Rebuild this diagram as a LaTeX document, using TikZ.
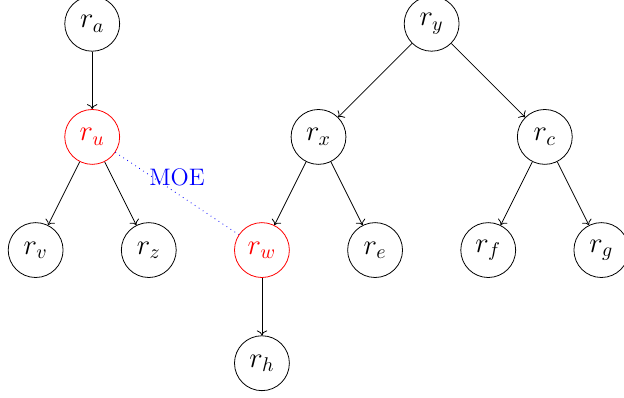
\documentclass[tikz,border=0pt]{standalone}
\usepackage{amsmath, amssymb}
\usepackage{tikz}
\usetikzlibrary{arrows.meta, positioning}

\begin{document}
\begin{tikzpicture}[
  vert/.style={draw, circle, minimum size=0.97cm, inner sep=0pt, font=\Large},
  moe/.style={draw=blue, dotted},
  arr/.style={->},
  on grid,
  node distance=2cm and 1cm
]
\useasboundingbox (-1.63,0.42) rectangle (9.4,-6.61);
\node[vert] (ra) {$r_a$};
\node[vert, red, below=of ra] (ru) {$r_u$};
\node[vert, below left=of ru] (rv) {$r_v$};
\node[vert, below right=of ru] (rz) {$r_z$};

\node[vert, right=6cm of ra] (ry) {$r_y$};
\node[vert, below left=2cm and 2cm of ry] (rx) {$r_x$};
\node[vert, below right=2cm and 2cm of ry] (rc) {$r_c$};
\node[vert, red, below left=of rx] (rw) {$r_w$};
\node[vert, below right=of rx] (re) {$r_e$};
\node[vert, below left=of rc] (rf) {$r_f$};
\node[vert, below right=of rc] (rg) {$r_g$};
\node[vert, below=of rw] (rh) {$r_h$};

\draw[arr] (ra) -- (ru);
\draw[arr] (ru) -- (rv);
\draw[arr] (ru) -- (rz);
\draw[arr] (ry) -- (rx);
\draw[arr] (ry) -- (rc);
\draw[arr] (rx) -- (rw);
\draw[arr] (rx) -- (re);
\draw[arr] (rc) -- (rf);
\draw[arr] (rc) -- (rg);
\draw[arr] (rw) -- (rh);

\draw[moe] (ru) -- node[above, text=blue, font=\large, inner sep=3.5pt] (moelabel) {MOE} (rw);
\end{tikzpicture}
\end{document}
